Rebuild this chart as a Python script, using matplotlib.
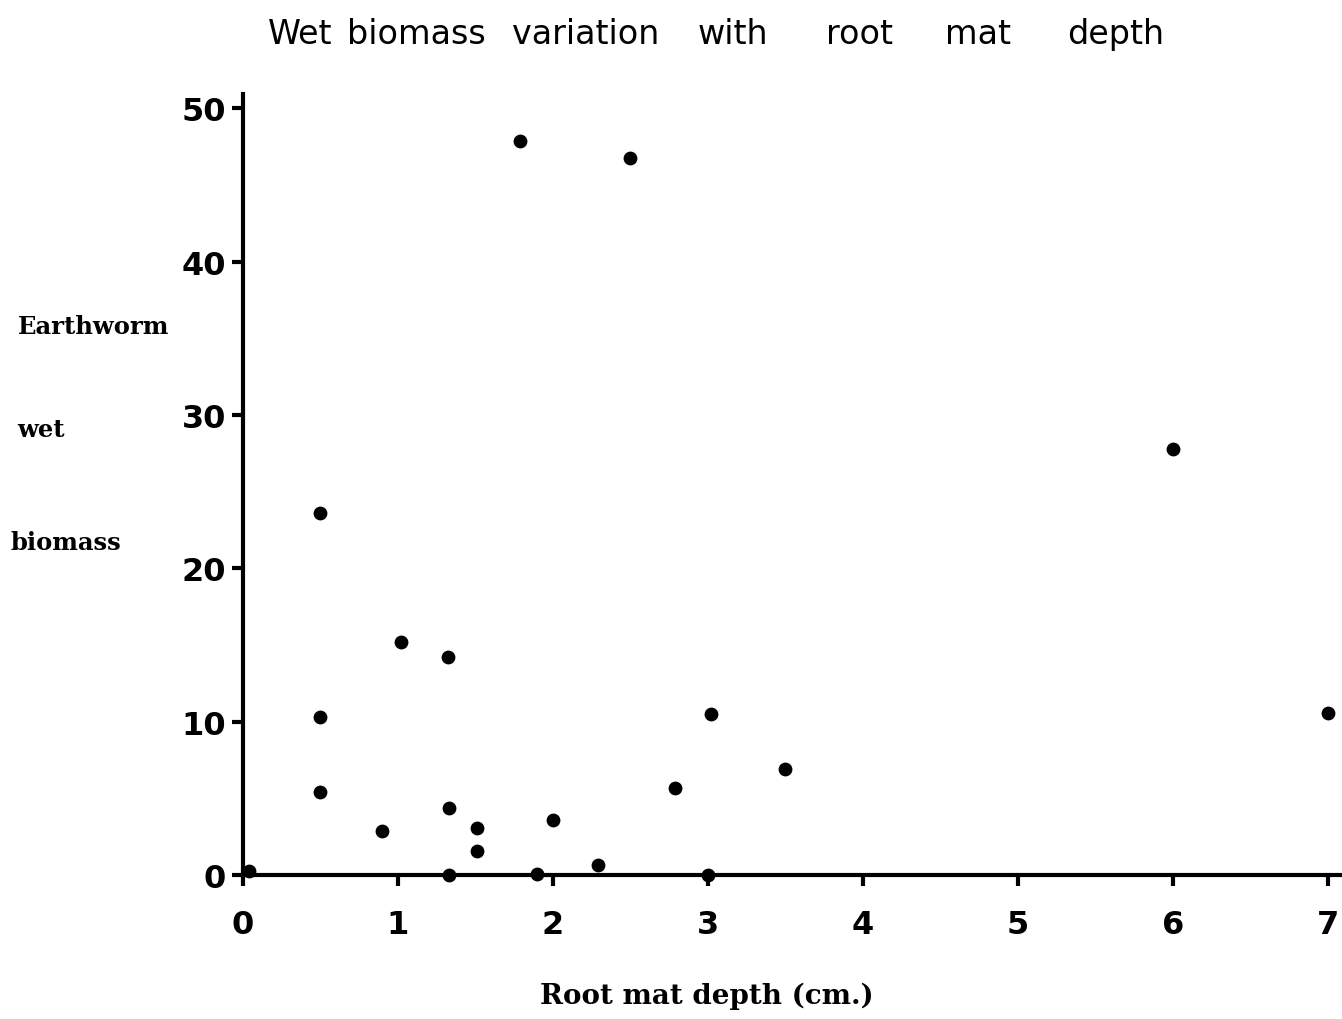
import numpy as np
import matplotlib.pyplot as plt

# root mat depth (cm) and earthworm wet biomass
depth = [0.04, 0.5, 0.5, 0.5, 0.9, 1.02, 1.32, 1.33, 1.33, 1.51, 1.51,
         1.79, 1.9, 2.0, 2.29, 2.5, 2.79, 3.02, 3.0, 3.5, 6.0, 7.0]
biomass = [0.3, 23.6, 10.3, 5.4, 2.9, 15.2, 14.2, 4.4, 0.0, 3.1, 1.6,
           47.9, 0.1, 3.6, 0.65, 46.8, 5.7, 10.5, 0.0, 6.9, 27.8, 10.6]

xticks = [0, 1, 2, 3, 4, 5, 6, 7]
yticks = [0, 10, 20, 30, 40, 50]

title_words = ["Wet", "biomass", "variation", "with", "root", "mat", "depth"]
title_x = [268, 347, 512, 698, 826, 945, 1067]   # left edges in pixels

fig = plt.figure(figsize=(13.42, 10.20), dpi=100)
ax = fig.add_axes([0.181, 0.141, 0.819, 0.766])

ax.scatter(depth, biomass, s=80, color="black", zorder=3, clip_on=False)

ax.set_xlim(0, 7.09)
ax.set_ylim(0, 50.95)
ax.set_xticks(xticks)
ax.set_yticks(yticks)
ax.tick_params(axis='both', direction='out', length=8, width=3,
               labelsize=23, colors='black')
ax.tick_params(axis='x', pad=16)
ax.tick_params(axis='y', pad=4)
for lab in ax.get_xticklabels() + ax.get_yticklabels():
    lab.set_fontweight('bold')

for side in ['top', 'right']:
    ax.spines[side].set_visible(False)
for side in ['left', 'bottom']:
    ax.spines[side].set_linewidth(3)

for word, px in zip(title_words, title_x):
    fig.text(px / 1342, 0.966, word, ha='left', va='center', fontsize=24,
             family='DejaVu Sans')

fig.text(0.527, 0.023, "Root mat depth (cm.)", ha='center', va='center',
         fontsize=20, family='DejaVu Serif', fontweight='bold')

fig.text(0.013, 0.679, "Earthworm", ha='left', va='center', fontsize=17.5,
         family='DejaVu Serif', fontweight='bold')
fig.text(0.013, 0.578, "wet", ha='left', va='center', fontsize=17.5,
         family='DejaVu Serif', fontweight='bold')
fig.text(0.008, 0.468, "biomass", ha='left', va='center', fontsize=17.5,
         family='DejaVu Serif', fontweight='bold')

fig.savefig("out.png", dpi=100)
